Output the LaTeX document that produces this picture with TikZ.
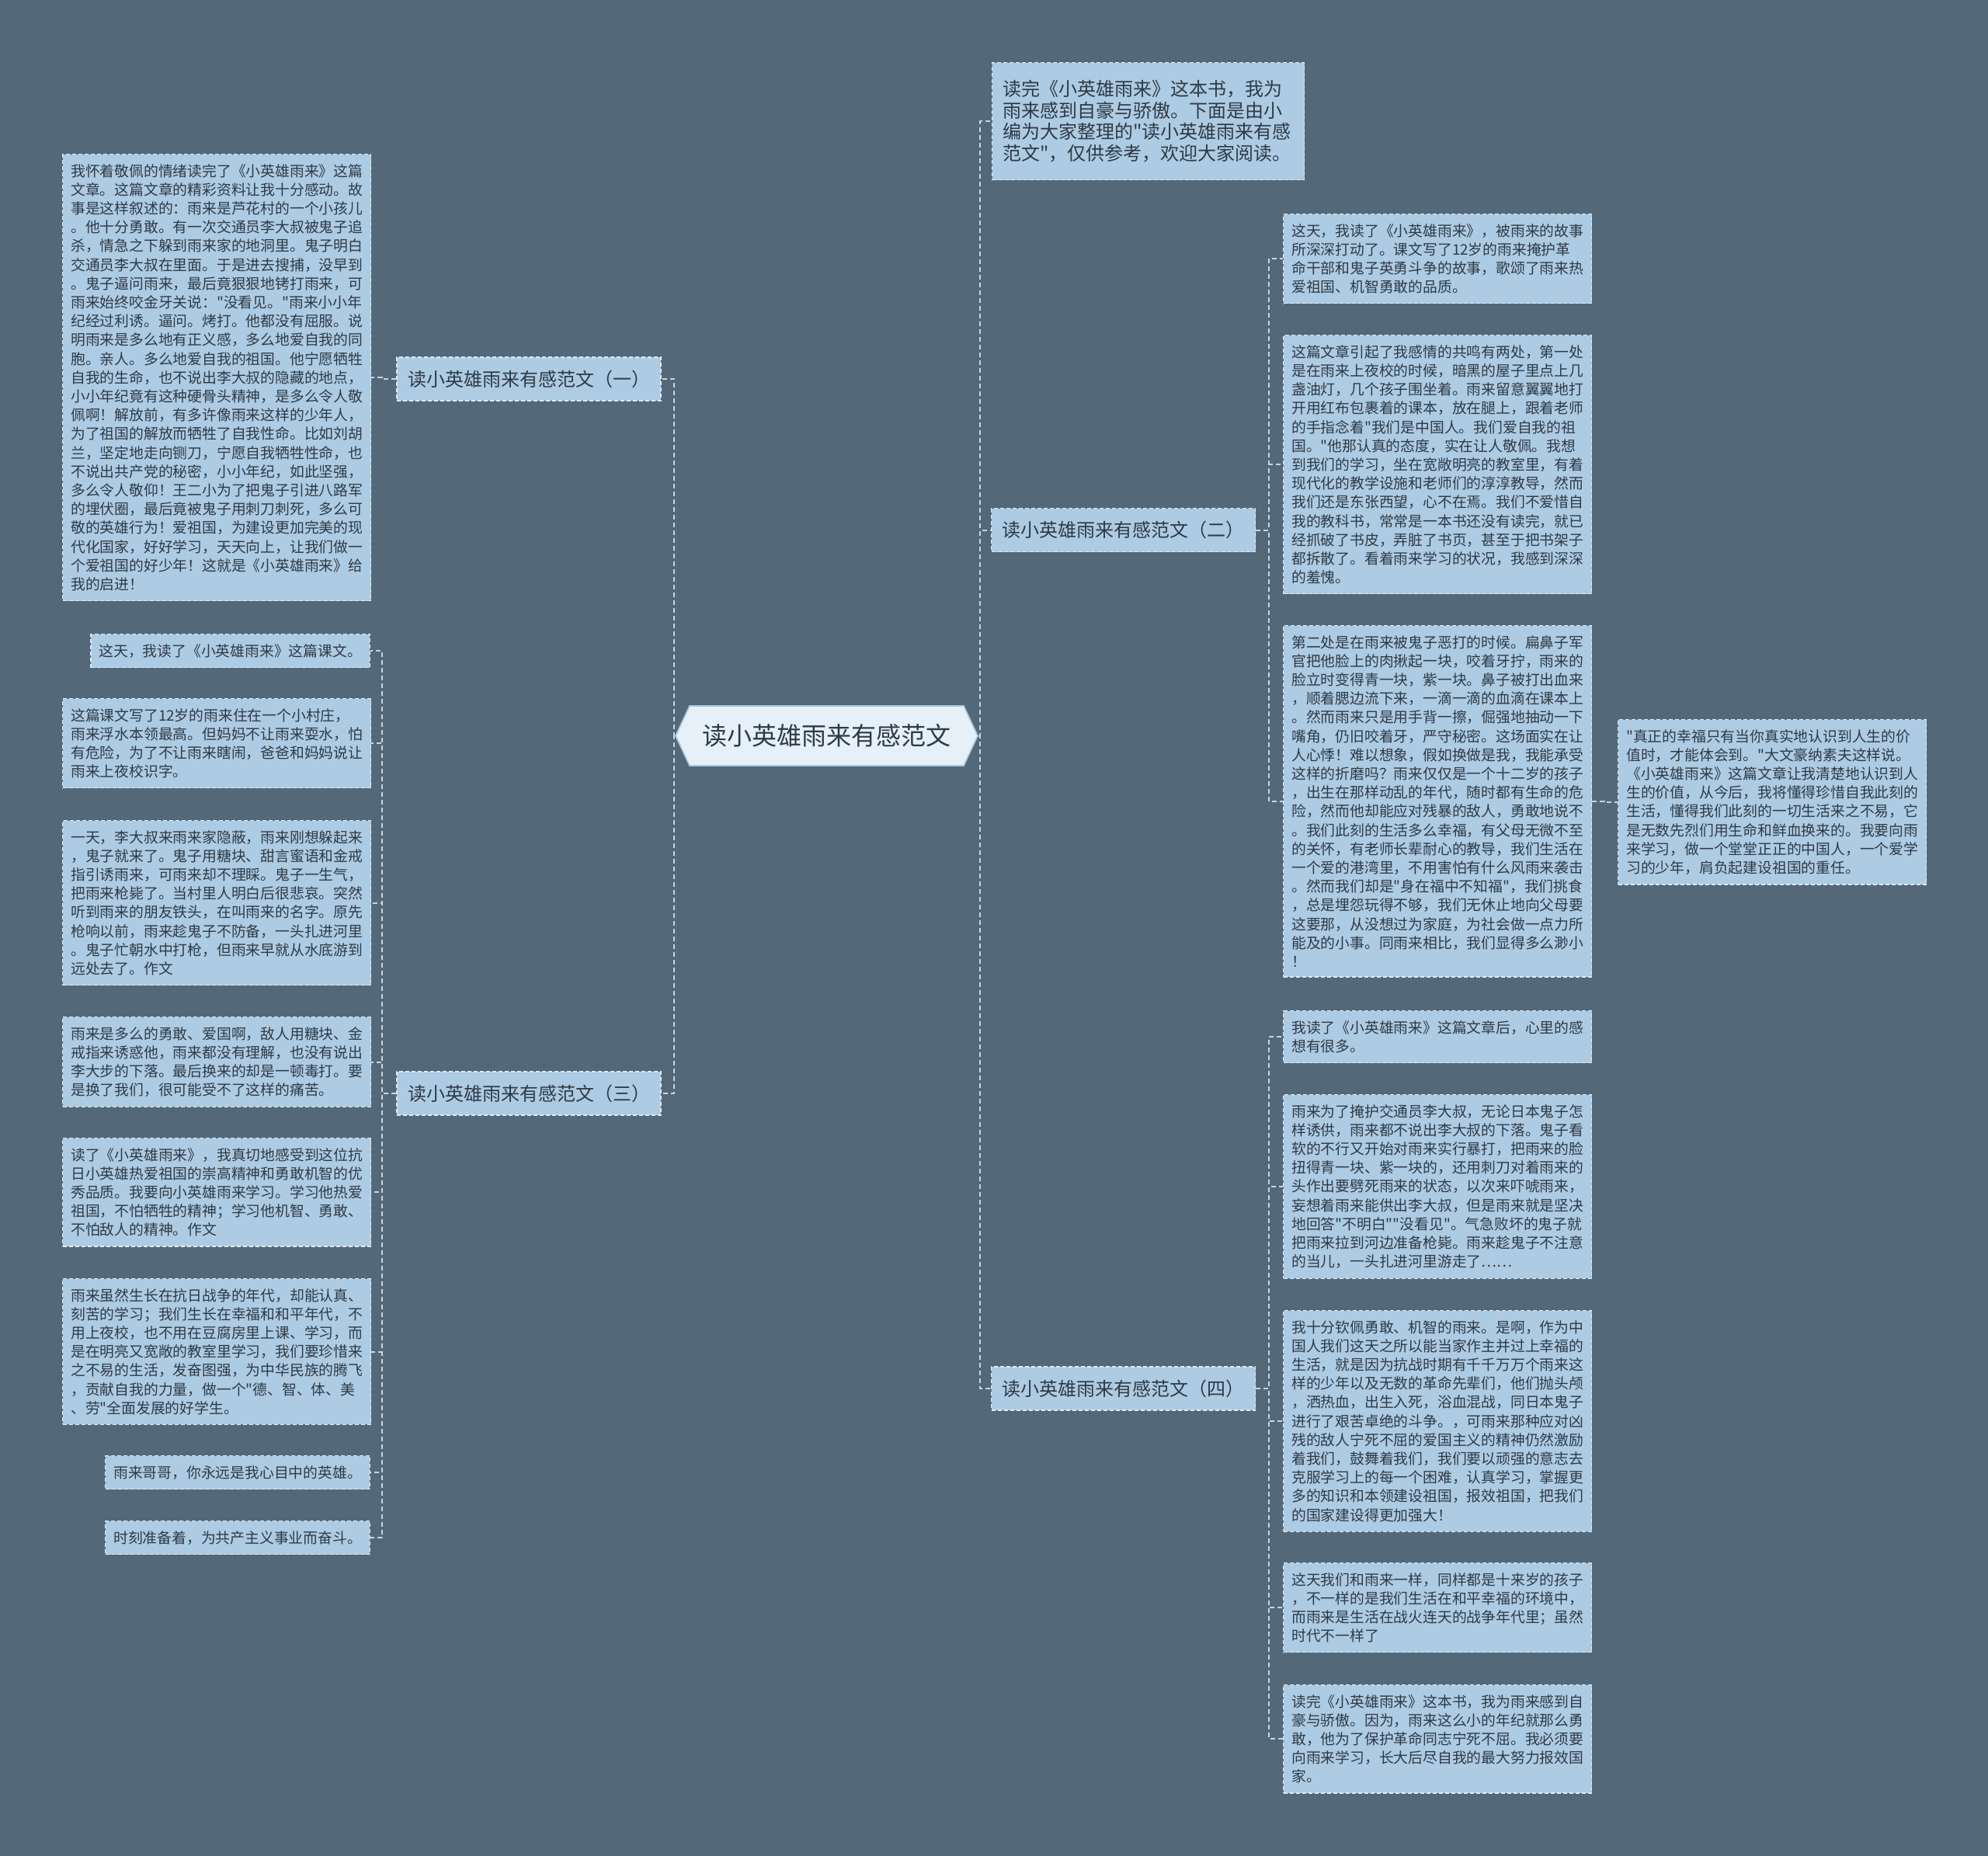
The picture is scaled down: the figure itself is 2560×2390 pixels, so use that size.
\documentclass[tikz,border=0pt]{standalone}
\usepackage{fontspec}
\newfontfamily\cjk{Noto Sans CJK SC}
\usetikzlibrary{shapes.symbols}
\definecolor{bgc}{HTML}{536979}
\definecolor{boxc}{HTML}{ADCBE3}
\definecolor{bordc}{HTML}{DDEAF4}
\definecolor{txtc}{HTML}{2E3A45}
\definecolor{connc}{HTML}{C3D6E6}
\definecolor{rootc}{HTML}{E6F0F8}
\definecolor{rootb}{HTML}{A9C6DC}
\tikzset{
  conn/.style={draw=connc, line width=2pt, dash pattern=on 6pt off 4pt},
  txtbox/.style={draw=bordc, fill=boxc, line width=1.4pt, dash pattern=on 5pt off 3pt,
    text=txtc, align=left, inner xsep=10.5pt, inner ysep=12.5pt,
    font=\cjk\fontsize{18.8}{24.2}\selectfont},
  widebox/.style={txtbox, text width=376pt},
  introbox/.style={txtbox, text width=375pt, inner xsep=13.5pt, minimum height=151pt,
    font=\cjk\fontsize{24}{27.6}\selectfont},
  branch/.style={draw=bordc, fill=boxc, line width=1.4pt, dash pattern=on 5pt off 3pt,
    text=txtc, minimum width=340pt, minimum height=56pt, inner sep=0pt,
    font=\cjk\fontsize{24}{28}\selectfont},
  root/.style={signal, signal to=west and east, signal pointer angle=130,
    draw=rootb, fill=rootc, line width=1.6pt, minimum width=389pt, minimum height=77pt,
    inner sep=0pt, text=txtc, font=\cjk\fontsize{32}{38}\selectfont}
}
\begin{document}
\begin{tikzpicture}[x=1pt,y=-1pt]
\useasboundingbox (0,0) rectangle (2560,2390);
\fill[bgc] (0,0) rectangle (2560,2390);

% trunk coordinates
\coordinate (tl) at (868,0);
\coordinate (tr) at (1262,0);
\coordinate (t1) at (492,0);
\coordinate (t2) at (1634,0);
\coordinate (t5) at (2066,0);

% root
\node[root] (c) at (1064.5,947.5) {读小英雄雨来有感范文};

% branches
\node[branch] (b1) at (681,488) {读小英雄雨来有感范文（一）};
\node[branch] (b3) at (681,1408) {读小英雄雨来有感范文（三）};
\node[branch] (b2) at (1446.5,682.5) {读小英雄雨来有感范文（二）};
\node[branch] (b4) at (1446.5,1788) {读小英雄雨来有感范文（四）};

% intro
\node[introbox, anchor=north west] (intro) at (1277,80) {读完《小英雄雨来》这本书，我为\\雨来感到自豪与骄傲。下面是由小\\编为大家整理的"读小英雄雨来有感\\范文"，仅供参考，欢迎大家阅读。};

% left column
\node[widebox, anchor=north west] (l1) at (80,198) {我怀着敬佩的情绪读完了《小英雄雨来》这篇\\文章。这篇文章的精彩资料让我十分感动。故\\事是这样叙述的：雨来是芦花村的一个小孩儿\\。他十分勇敢。有一次交通员李大叔被鬼子追\\杀，情急之下躲到雨来家的地洞里。鬼子明白\\交通员李大叔在里面。于是进去搜捕，没早到\\。鬼子逼问雨来，最后竟狠狠地铐打雨来，可\\雨来始终咬金牙关说："没看见。"雨来小小年\\纪经过利诱。逼问。烤打。他都没有屈服。说\\明雨来是多么地有正义感，多么地爱自我的同\\胞。亲人。多么地爱自我的祖国。他宁愿牺牲\\自我的生命，也不说出李大叔的隐藏的地点，\\小小年纪竟有这种硬骨头精神，是多么令人敬\\佩啊！解放前，有多许像雨来这样的少年人，\\为了祖国的解放而牺牲了自我性命。比如刘胡\\兰，坚定地走向铡刀，宁愿自我牺牲性命，也\\不说出共产党的秘密，小小年纪，如此坚强，\\多么令人敬仰！王二小为了把鬼子引进八路军\\的埋伏圈，最后竟被鬼子用刺刀刺死，多么可\\敬的英雄行为！爱祖国，为建设更加完美的现\\代化国家，好好学习，天天向上，让我们做一\\个爱祖国的好少年！这就是《小英雄雨来》给\\我的启进！};
\node[txtbox, anchor=north east] (l2) at (477,816) {这天，我读了《小英雄雨来》这篇课文。};
\node[widebox, anchor=north west] (l3) at (80,899) {这篇课文写了12岁的雨来住在一个小村庄，\\雨来浮水本领最高。但妈妈不让雨来耍水，怕\\有危险，为了不让雨来瞎闹，爸爸和妈妈说让\\雨来上夜校识字。};
\node[widebox, anchor=north west] (l4) at (80,1056) {一天，李大叔来雨来家隐蔽，雨来刚想躲起来\\，鬼子就来了。鬼子用糖块、甜言蜜语和金戒\\指引诱雨来，可雨来却不理睬。鬼子一生气，\\把雨来枪毙了。当村里人明白后很悲哀。突然\\听到雨来的朋友铁头，在叫雨来的名字。原先\\枪响以前，雨来趁鬼子不防备，一头扎进河里\\。鬼子忙朝水中打枪，但雨来早就从水底游到\\远处去了。作文};
\node[widebox, anchor=north west] (l5) at (80,1309) {雨来是多么的勇敢、爱国啊，敌人用糖块、金\\戒指来诱惑他，雨来都没有理解，也没有说出\\李大步的下落。最后换来的却是一顿毒打。要\\是换了我们，很可能受不了这样的痛苦。};
\node[widebox, anchor=north west] (l6) at (80,1465) {读了《小英雄雨来》，我真切地感受到这位抗\\日小英雄热爱祖国的崇高精神和勇敢机智的优\\秀品质。我要向小英雄雨来学习。学习他热爱\\祖国，不怕牺牲的精神；学习他机智、勇敢、\\不怕敌人的精神。作文};
\node[widebox, anchor=north west] (l7) at (80,1646) {雨来虽然生长在抗日战争的年代，却能认真、\\刻苦的学习；我们生长在幸福和和平年代，不\\用上夜校，也不用在豆腐房里上课、学习，而\\是在明亮又宽敞的教室里学习，我们要珍惜来\\之不易的生活，发奋图强，为中华民族的腾飞\\，贡献自我的力量，做一个"德、智、体、美\\、劳"全面发展的好学生。};
\node[txtbox, anchor=north east] (l8) at (477,1874) {雨来哥哥，你永远是我心目中的英雄。};
\node[txtbox, anchor=north east] (l9) at (477,1958) {时刻准备着，为共产主义事业而奋斗。};

% right column (二)
\node[widebox, anchor=north west] (r1) at (1652,275) {这天，我读了《小英雄雨来》，被雨来的故事\\所深深打动了。课文写了12岁的雨来掩护革\\命干部和鬼子英勇斗争的故事，歌颂了雨来热\\爱祖国、机智勇敢的品质。};
\node[widebox, anchor=north west] (r2) at (1652,431) {这篇文章引起了我感情的共鸣有两处，第一处\\是在雨来上夜校的时候，暗黑的屋子里点上几\\盏油灯，几个孩子围坐着。雨来留意翼翼地打\\开用红布包裹着的课本，放在腿上，跟着老师\\的手指念着"我们是中国人。我们爱自我的祖\\国。"他那认真的态度，实在让人敬佩。我想\\到我们的学习，坐在宽敞明亮的教室里，有着\\现代化的教学设施和老师们的淳淳教导，然而\\我们还是东张西望，心不在焉。我们不爱惜自\\我的教科书，常常是一本书还没有读完，就已\\经抓破了书皮，弄脏了书页，甚至于把书架子\\都拆散了。看着雨来学习的状况，我感到深深\\的羞愧。};
\node[widebox, anchor=north west] (r3) at (1652,805) {第二处是在雨来被鬼子恶打的时候。扁鼻子军\\官把他脸上的肉揪起一块，咬着牙拧，雨来的\\脸立时变得青一块，紫一块。鼻子被打出血来\\，顺着腮边流下来，一滴一滴的血滴在课本上\\。然而雨来只是用手背一擦，倔强地抽动一下\\嘴角，仍旧咬着牙，严守秘密。这场面实在让\\人心悸！难以想象，假如换做是我，我能承受\\这样的折磨吗？雨来仅仅是一个十二岁的孩子\\，出生在那样动乱的年代，随时都有生命的危\\险，然而他却能应对残暴的敌人，勇敢地说不\\。我们此刻的生活多么幸福，有父母无微不至\\的关怀，有老师长辈耐心的教导，我们生活在\\一个爱的港湾里，不用害怕有什么风雨来袭击\\。然而我们却是"身在福中不知福"，我们挑食\\，总是埋怨玩得不够，我们无休止地向父母要\\这要那，从没想过为家庭，为社会做一点力所\\能及的小事。同雨来相比，我们显得多么渺小\\！};
\node[widebox, anchor=north west] (rf) at (2083,926) {"真正的幸福只有当你真实地认识到人生的价\\值时，才能体会到。"大文豪纳素夫这样说。\\《小英雄雨来》这篇文章让我清楚地认识到人\\生的价值，从今后，我将懂得珍惜自我此刻的\\生活，懂得我们此刻的一切生活来之不易，它\\是无数先烈们用生命和鲜血换来的。我要向雨\\来学习，做一个堂堂正正的中国人，一个爱学\\习的少年，肩负起建设祖国的重任。};

% right column (四)
\node[widebox, anchor=north west] (r41) at (1652,1301) {我读了《小英雄雨来》这篇文章后，心里的感\\想有很多。};
\node[widebox, anchor=north west] (r42) at (1652,1409) {雨来为了掩护交通员李大叔，无论日本鬼子怎\\样诱供，雨来都不说出李大叔的下落。鬼子看\\软的不行又开始对雨来实行暴打，把雨来的脸\\扭得青一块、紫一块的，还用刺刀对着雨来的\\头作出要劈死雨来的状态，以次来吓唬雨来，\\妄想着雨来能供出李大叔，但是雨来就是坚决\\地回答"不明白""没看见"。气急败坏的鬼子就\\把雨来拉到河边准备枪毙。雨来趁鬼子不注意\\的当儿，一头扎进河里游走了……};
\node[widebox, anchor=north west] (r43) at (1652,1687) {我十分钦佩勇敢、机智的雨来。是啊，作为中\\国人我们这天之所以能当家作主并过上幸福的\\生活，就是因为抗战时期有千千万万个雨来这\\样的少年以及无数的革命先辈们，他们抛头颅\\，洒热血，出生入死，浴血混战，同日本鬼子\\进行了艰苦卓绝的斗争。，可雨来那种应对凶\\残的敌人宁死不屈的爱国主义的精神仍然激励\\着我们，鼓舞着我们，我们要以顽强的意志去\\克服学习上的每一个困难，认真学习，掌握更\\多的知识和本领建设祖国，报效祖国，把我们\\的国家建设得更加强大！};
\node[widebox, anchor=north west] (r44) at (1652,2012) {这天我们和雨来一样，同样都是十来岁的孩子\\，不一样的是我们生活在和平幸福的环境中，\\而雨来是生活在战火连天的战争年代里；虽然\\时代不一样了};
\node[widebox, anchor=north west] (r45) at (1652,2169) {读完《小英雄雨来》这本书，我为雨来感到自\\豪与骄傲。因为，雨来这么小的年纪就那么勇\\敢，他为了保护革命同志宁死不屈。我必须要\\向雨来学习，长大后尽自我的最大努力报效国\\家。};

% connectors: root
\draw[conn] (c.west) -- (c.west -| tl) |- (b1.east);
\draw[conn] (c.west) -- (c.west -| tl) |- (b3.east);
\draw[conn] (c.east) -- (c.east -| tr) |- (intro.west);
\draw[conn] (c.east) -- (c.east -| tr) |- (b2.west);
\draw[conn] (c.east) -- (c.east -| tr) |- (b4.west);
% branch 1
\draw[conn] (b1.west) -- (b1.west -| t1) |- (l1.east);
% branch 3
\foreach \n in {l2,l3,l4,l5,l6,l7,l8,l9}
  \draw[conn] (b3.west) -- (b3.west -| t1) |- (\n.east);
% branch 2
\foreach \n in {r1,r2,r3}
  \draw[conn] (b2.east) -- (b2.east -| t2) |- (\n.west);
\draw[conn] (r3.east) -- (r3.east -| t5) |- (rf.west);
% branch 4
\foreach \n in {r41,r42,r43,r44,r45}
  \draw[conn] (b4.east) -- (b4.east -| t2) |- (\n.west);
\end{tikzpicture}
\end{document}
